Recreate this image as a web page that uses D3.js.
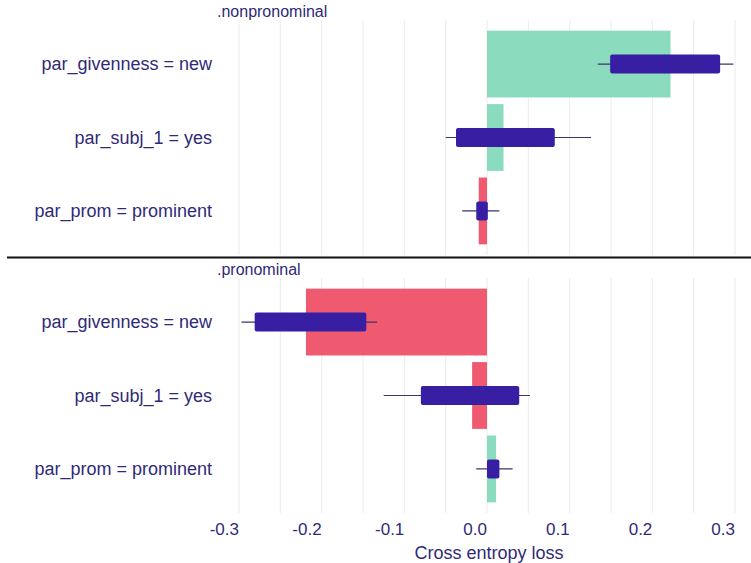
<!DOCTYPE html>
<html>
<head>
<meta charset="utf-8">
<script src="https://cdn.jsdelivr.net/npm/d3@7"></script>
<style>
  body { margin: 0; background: #fff; }
  text { font-family: "Liberation Sans", Arial, sans-serif; fill: #2f2a78; }
</style>
</head>
<body>
<div id="chart"></div>
<script>
// panels and variables
var panels = ['.nonpronominal', '.pronominal']
var variables = ['par_givenness = new', 'par_subj_1 = yes', 'par_prom = prominent']

// mean contribution (bar) per panel
var contribution = [
  [0.222, 0.020, -0.010],
  [-0.219, -0.018, 0.011]
]
// boxplot of the contribution: lower whisker, q1, q3, upper whisker
var boxLow = [[0.134, -0.050, -0.030], [-0.297, -0.125, -0.013]]
var boxQ1 = [[0.149, -0.0375, -0.013], [-0.281, -0.080, 0.000]]
var boxQ3 = [[0.282, 0.082, 0.001], [-0.146, 0.039, 0.015]]
var boxHigh = [[0.298, 0.126, 0.015], [-0.133, 0.052, 0.031]]

var xTicks = [-0.3, -0.2, -0.1, 0.0, 0.1, 0.2, 0.3]
var gridValues = d3.range(-6, 7).map(i => i * 0.05)

var width = 751
var height = 563

var svg = d3.select('#chart')
  .append('svg')
  .attr('width', width)
  .attr('height', height)

var xPositionScale = d3.scaleLinear().domain([-0.3, 0.3]).range([239, 735])
var panelRanges = [[20, 255], [278, 513]]
var colorPos = '#8bdcbe'
var colorNeg = '#f05a71'
var boxColor = '#371ea3'

panels.forEach(function(panel, p) {
  var yPositionScale = d3.scalePoint()
    .domain(variables)
    .range(panelRanges[p])
    .padding(0.6)
  var step = yPositionScale.step()

  var g = svg.append('g').attr('class', 'panel')

  // grid
  g.selectAll('.grid')
    .data(gridValues)
    .enter().append('line')
    .attr('class', 'grid')
    .attr('x1', d => xPositionScale(d))
    .attr('x2', d => xPositionScale(d))
    .attr('y1', panelRanges[p][0])
    .attr('y2', panelRanges[p][1])
    .attr('stroke', '#ebebeb')
    .attr('stroke-width', 1)

  // strip title
  g.append('text')
    .attr('x', 217)
    .attr('y', p === 0 ? 17 : 275)
    .attr('font-size', 16)
    .text(panel)

  var rows = variables.map(function(v, i) {
    return {
      name: v,
      value: contribution[p][i],
      low: boxLow[p][i],
      q1: boxQ1[p][i],
      q3: boxQ3[p][i],
      high: boxHigh[p][i]
    }
  })

  // bars
  var barH = step * 0.91
  g.selectAll('.bar')
    .data(rows)
    .enter().append('rect')
    .attr('class', 'bar')
    .attr('x', d => xPositionScale(Math.min(0, d.value)))
    .attr('width', d => Math.abs(xPositionScale(d.value) - xPositionScale(0)))
    .attr('y', d => yPositionScale(d.name) - barH / 2)
    .attr('height', barH)
    .attr('fill', d => d.value >= 0 ? colorPos : colorNeg)

  // whiskers
  g.selectAll('.whisker')
    .data(rows)
    .enter().append('line')
    .attr('class', 'whisker')
    .attr('x1', d => xPositionScale(d.low))
    .attr('x2', d => xPositionScale(d.high))
    .attr('y1', d => yPositionScale(d.name))
    .attr('y2', d => yPositionScale(d.name))
    .attr('stroke', '#3a3470')
    .attr('stroke-width', 1.2)

  // boxes
  var boxH = step * 0.26
  g.selectAll('.box')
    .data(rows)
    .enter().append('rect')
    .attr('class', 'box')
    .attr('x', d => xPositionScale(d.q1))
    .attr('width', d => xPositionScale(d.q3) - xPositionScale(d.q1))
    .attr('y', d => yPositionScale(d.name) - boxH / 2)
    .attr('height', boxH)
    .attr('rx', 2)
    .attr('fill', boxColor)

  // y labels
  g.selectAll('.ylabel')
    .data(variables)
    .enter().append('text')
    .attr('class', 'ylabel')
    .attr('x', 212)
    .attr('y', d => yPositionScale(d) + 6)
    .attr('text-anchor', 'end')
    .attr('font-size', 18)
    .text(d => d)
})

// separator between facets
svg.append('line')
  .attr('x1', 7)
  .attr('x2', width)
  .attr('y1', 257.5)
  .attr('y2', 257.5)
  .attr('stroke', '#111')
  .attr('stroke-width', 2)

// x axis labels
svg.append('g')
  .attr('class', 'axis axis-x')
  .selectAll('text')
  .data(xTicks)
  .enter().append('text')
  .attr('x', d => xPositionScale(d))
  .attr('y', 535)
  .attr('text-anchor', 'end')
  .attr('font-size', 17)
  .text(d => d3.format('.1f')(d).replace('−', '-'))

svg.append('text')
  .attr('x', 489)
  .attr('y', 559)
  .attr('text-anchor', 'middle')
  .attr('font-size', 18)
  .text('Cross entropy loss')
</script>
</body>
</html>
